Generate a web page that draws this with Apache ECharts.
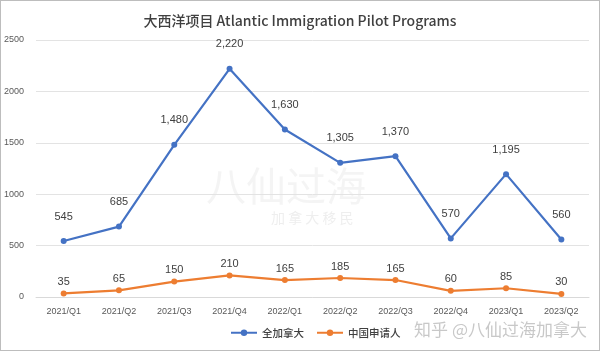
<!DOCTYPE html>
<html>
<head>
<meta charset="utf-8">
<script src="https://cdn.jsdelivr.net/npm/echarts@6/dist/echarts.min.js"></script>
<style>
  html, body { margin: 0; padding: 0; background: #fff; }
  #main { width: 600px; height: 351px; box-sizing: border-box; border: 1px solid #bdbdbd; }
</style>
</head>
<body>
<div id="main"></div>
<script>
const categories = ['2021/Q1', '2021/Q2', '2021/Q3', '2021/Q4', '2022/Q1', '2022/Q2', '2022/Q3', '2022/Q4', '2023/Q1', '2023/Q2'];
const canadaAll = [545, 685, 1480, 2220, 1630, 1305, 1370, 570, 1195, 560];
const chinaApplicants = [35, 65, 150, 210, 165, 185, 165, 60, 85, 30];
const yTicks = [0, 500, 1000, 1500, 2000, 2500];

const chart = echarts.init(document.getElementById('main'), null, { renderer: 'canvas' });

const fontCN = '"Noto Sans CJK SC", "Noto Sans", sans-serif';

const option = {
  animation: false,
  title: {
    text: '大西洋项目 Atlantic Immigration Pilot Programs',
    left: 'center',
    top: 8,
    textStyle: { fontFamily: fontCN, fontSize: 14, fontWeight: 500, color: '#404040' }
  },
  legend: {
    bottom: 7,
    left: 224,
    itemWidth: 26,
    itemHeight: 8,
    itemGap: 12,
    textStyle: { fontFamily: fontCN, fontSize: 10.5, fontWeight: 500, color: '#404040' },
    data: ['全加拿大', '中国申请人']
  },
  grid: { left: 34, right: 10, top: 39, bottom: 53, containLabel: false },
  xAxis: {
    type: 'category',
    data: categories,
    boundaryGap: true,
    axisLine: { show: true, lineStyle: { color: '#d9d9d9' } },
    axisTick: { show: false },
    axisLabel: { color: '#595959', fontSize: 9, fontFamily: 'Liberation Sans, sans-serif', margin: 10 }
  },
  yAxis: {
    type: 'value',
    min: yTicks[0],
    max: yTicks[yTicks.length - 1],
    interval: 500,
    axisLine: { show: false },
    axisTick: { show: false },
    splitLine: { lineStyle: { color: '#e3e3e3' } },
    axisLabel: {
      color: '#595959', fontSize: 9, fontFamily: 'Liberation Sans, sans-serif', margin: 12,
      formatter: v => String(v)
    }
  },
  series: [
    {
      name: '全加拿大',
      type: 'line',
      data: canadaAll,
      symbol: 'circle',
      symbolSize: 6,
      itemStyle: { color: '#4472c4' },
      lineStyle: { width: 2.2, color: '#4472c4' },
      label: {
        show: true, position: 'top', distance: 16,
        color: '#404040', fontSize: 11, fontFamily: 'Liberation Sans, sans-serif',
        formatter: p => p.value.toLocaleString('en-US')
      }
    },
    {
      name: '中国申请人',
      type: 'line',
      data: chinaApplicants,
      symbol: 'circle',
      symbolSize: 6,
      itemStyle: { color: '#ed7d31' },
      lineStyle: { width: 2.2, color: '#ed7d31' },
      label: {
        show: true, position: 'top', distance: 3,
        color: '#404040', fontSize: 11, fontFamily: 'Liberation Sans, sans-serif'
      }
    }
  ],
  graphic: [
    {
      type: 'text', left: 205, top: 165, z: -1,
      style: { text: '八仙过海', fontSize: 40, fontFamily: fontCN, fill: 'rgba(200,200,200,0.2)' }
    },
    {
      type: 'text', left: 270, top: 210, z: -1,
      style: { text: '加 拿 大 移 民', fontSize: 14, fontFamily: fontCN, fill: 'rgba(200,200,200,0.3)' }
    },
    {
      type: 'text', right: 12, bottom: 12,
      style: { text: '知乎 @八仙过海加拿大', fontSize: 17, fontFamily: fontCN, fill: 'rgba(190,190,190,0.85)' }
    }
  ]
};

chart.setOption(option);
</script>
</body>
</html>
